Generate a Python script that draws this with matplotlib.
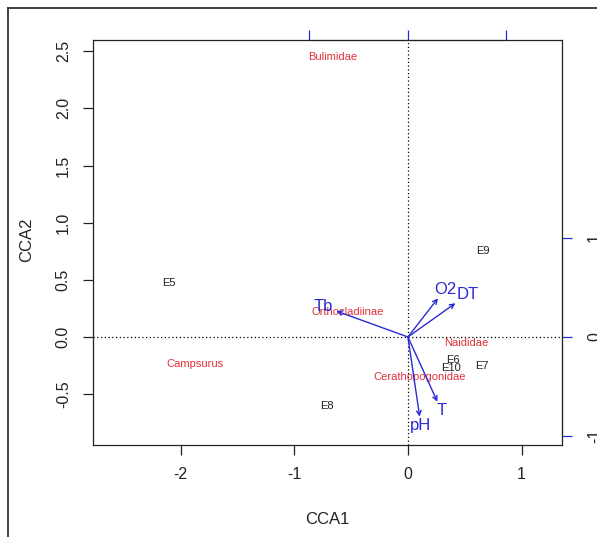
import matplotlib
matplotlib.use('Agg')
import matplotlib.pyplot as plt
import numpy as np
from matplotlib.lines import Line2D

plt.rcParams['font.family'] = ['Liberation Sans', 'DejaVu Sans']
plt.rcParams['axes.unicode_minus'] = False

# site scores (CCA1, CCA2)
sites = ['E5', 'E6', 'E7', 'E8', 'E9', 'E10']
site_x = [-2.10, 0.40, 0.65, -0.71, 0.66, 0.38]
site_y = [0.47, -0.20, -0.25, -0.60, 0.75, -0.27]

# species scores
species = ['Bulimidae', 'Orthocladiinae', 'Naididae', 'Cerathopogonidae', 'Campsurus']
sp_x = [-0.66, -0.53, 0.51, 0.10, -1.87]
sp_y = [2.45, 0.22, -0.05, -0.35, -0.24]

# environmental biplot arrows (in biplot-axis units)
env = ['O2', 'DT', 'Tb', 'T', 'pH']
env_x = [0.305, 0.482, -0.727, 0.299, 0.119]
env_y = [0.391, 0.341, 0.262, -0.654, -0.805]

k = 0.866   # biplot unit expressed in primary units
blue = '#2a2ad2'
red = '#e2303a'

W, H = 597, 537
fig = plt.figure(figsize=(W / 100, H / 100), dpi=100)
ax = fig.add_axes([93 / W, 1 - 445 / H, (562 - 93) / W, (445 - 40) / H])
ax.set_xlim(-2.77, 1.355)
ax.set_ylim(-0.945, 2.598)

ax.axhline(0, color='black', ls=(0, (1, 2)), lw=0.9)
ax.axvline(0, color='black', ls=(0, (1, 2)), lw=0.9)

for lab, x, y in zip(sites, site_x, site_y):
    ax.text(x, y, lab, fontsize=8, color='#222222', ha='center', va='center')
for lab, x, y in zip(species, sp_x, sp_y):
    ax.text(x, y, lab, fontsize=8, color=red, ha='center', va='center')

# arrows + labels placed like vegan's ordiArrowTextXY
renderer = fig.canvas.get_renderer()
ux = ax.transData.transform((1, 0))[0] - ax.transData.transform((0, 0))[0]
uy = ax.transData.transform((0, 1))[1] - ax.transData.transform((0, 0))[1]
fs = 12
for lab, bx, by in zip(env, env_x, env_y):
    vx, vy = bx * k, by * k
    ax.annotate('', xy=(vx, vy), xytext=(0, 0),
                arrowprops=dict(arrowstyle='->', color=blue, lw=1.0,
                                mutation_scale=8, shrinkA=0, shrinkB=0))
    t = ax.text(0, 0, lab, fontsize=fs, color=blue, ha='center', va='center')
    w = t.get_window_extent(renderer).width / ux
    h = fs * 0.72 * 100 / 72 / uy
    ox = np.sign(vx) * (w / 2 + h / 4)
    oy = 0.75 * h * np.sign(vy)
    b = vy / vx
    move = oy / b
    if np.isfinite(move) and abs(move) <= abs(ox):
        ox = move
    else:
        oy = b * ox
    t.set_position((vx + ox, vy + oy))

ax.set_xticks([-2, -1, 0, 1])
ax.set_yticks([-0.5, 0.0, 0.5, 1.0, 1.5, 2.0, 2.5])
ax.set_yticklabels(['-0.5', '0.0', '0.5', '1.0', '1.5', '2.0', '2.5'])
ax.tick_params(axis='both', labelsize=11.5, length=7, width=0.9, pad=9,
               colors='#222222')
ax.tick_params(axis='y', labelrotation=90)
for lab in ax.get_yticklabels():
    lab.set_va('center')
for s in ax.spines.values():
    s.set_linewidth(0.9)
    s.set_color('#222222')

# blue biplot scale axes (top and right)
top = ax.secondary_xaxis('top', functions=(lambda v: v / k, lambda v: v * k))
top.set_xticks([-1, 0, 1])
top.tick_params(length=7, width=0.9, color=blue, labeltop=False)
top.spines['top'].set_bounds(-1, 1)
top.spines['top'].set_color(blue)

right = ax.secondary_yaxis('right', functions=(lambda v: v / k, lambda v: v * k))
right.set_yticks([-1, 0, 1])
right.set_yticklabels(['-1', '0', '1'])
right.tick_params(length=7, width=0.9, color=blue, labelsize=11.5, pad=11,
                  labelcolor='#222222', labelrotation=90)
for lab in right.get_yticklabels():
    lab.set_va('center')
right.spines['right'].set_bounds(-1, 1)
right.spines['right'].set_color(blue)

fig.text(327.5 / W, 1 - 519 / H, 'CCA1', fontsize=12, color='#222222',
         ha='center', va='center')
fig.text(27 / W, 1 - 240 / H, 'CCA2', fontsize=12, color='#222222',
         ha='center', va='center', rotation=90)

# screenshot frame
fig.add_artist(Line2D([8 / W, 8 / W], [0, 1 - 8 / H], color='#333333', lw=1.3))
fig.add_artist(Line2D([8 / W, 1], [1 - 8 / H, 1 - 8 / H], color='#333333', lw=1.3))

fig.savefig('out.png', dpi=100)
